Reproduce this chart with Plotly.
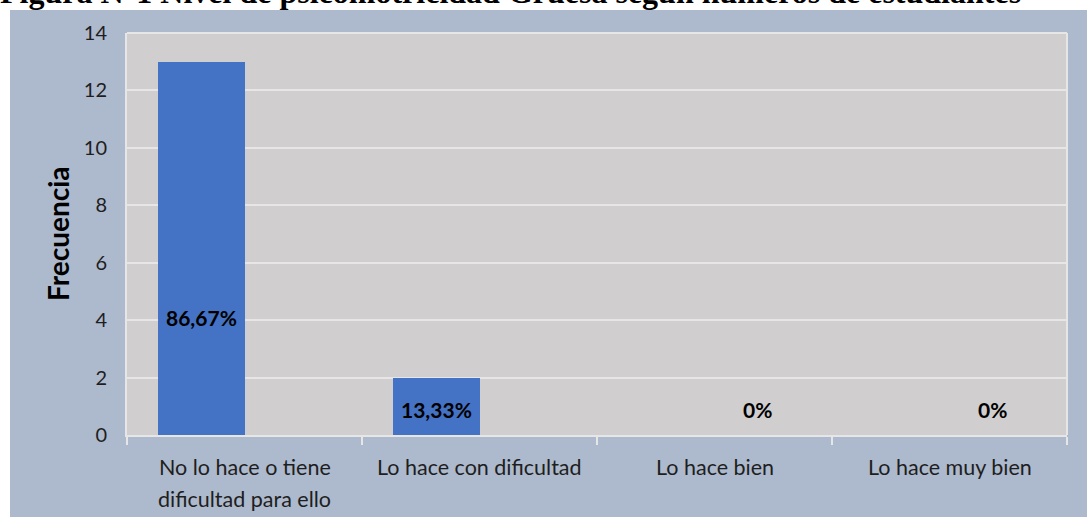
import plotly.graph_objects as go

# ---- data ----
categories = ["No lo hace o tiene\ndificultad para ello", "Lo hace con dificultad",
              "Lo hace bien", "Lo hace muy bien"]
frecuencia = [13, 2, 0, 0]
porcentaje_labels = ["86,67%", "13,33%", "0%", "0%"]
label_y = [4.1, 0.9, 0.9, 0.9]
label_side = [-1, -1, 1, 1]   # -1: on the bar, 1: on the (empty) second slot
y_ticks = [0, 2, 4, 6, 8, 10, 12, 14]
title_text = "Figura N°1 Nivel de psicomotricidad Gruesa según números de estudiantes"
y_title = "Frecuencia"

# ---- layout constants ----
W, H = 1087, 517
ML, MR, MT, MB = 127, 20, 33, 82
PW, PH = W - ML - MR, H - MT - MB
OUTER = "#adb9cc"
PLOTBG = "#d0cecf"
GRID = "#e6e6e6"
BAR = "#4472c4"
FONT = "Lato"
TXT = "#1e1e1e"
BAR_W = 0.37


def py(pixel_from_top):
    """paper y coordinate of a pixel row"""
    return (MT + PH - pixel_from_top) / PH


def px(pixel_from_left):
    return (pixel_from_left - ML) / PW


cat_keys = [c.replace("\n", " ") for c in categories]

fig = go.Figure()
fig.add_trace(go.Bar(
    x=cat_keys, y=frecuencia, marker=dict(color=BAR, line=dict(width=0)),
    width=BAR_W, offset=-BAR_W, showlegend=False, hoverinfo="x+y"))

ann = []
cat_px = PW / len(categories)
for i, c in enumerate(cat_keys):
    ann.append(dict(x=c, y=label_y[i], xref="x", yref="y", text="<b>%s</b>" % porcentaje_labels[i],
                    showarrow=False, xshift=label_side[i] * BAR_W / 2 * cat_px,
                    font=dict(family=FONT, size=21, color="#000000")))
    for j, line in enumerate(categories[i].split("\n")):
        ann.append(dict(x=c, y=0, xref="x", yref="paper", text=line, showarrow=False,
                        yanchor="middle", yshift=-32 - 32 * j,
                        font=dict(family=FONT, size=21.5, color=TXT)))

# y axis title
ann.append(dict(x=px(58), y=0.5, xref="paper", yref="paper", text="<b>%s</b>" % y_title,
                textangle=-90, showarrow=False, xanchor="center", yanchor="middle",
                font=dict(family=FONT, size=28, color="#000000")))
# figure caption (cut at the top of the picture, as in the reference)
ann.append(dict(x=px(-2), y=py(12.5), xref="paper", yref="paper",
                text="<b>%s</b>" % title_text, showarrow=False, xanchor="left", yanchor="bottom",
                font=dict(family="Liberation Serif", size=32, color="#000000")))

shapes = [
    # white strips at top and left
    dict(type="rect", xref="paper", yref="paper", x0=-0.3, x1=1.2,
         y0=py(10), y1=1.3, fillcolor="white", line=dict(width=0), layer="below"),
    dict(type="rect", xref="paper", yref="paper", x0=-0.3, x1=px(10),
         y0=-0.4, y1=1.3, fillcolor="white", line=dict(width=0), layer="below"),
    # plot border top / right
    dict(type="line", xref="paper", yref="paper", x0=0, x1=1, y0=1, y1=1,
         line=dict(color=GRID, width=2)),
    dict(type="line", xref="paper", yref="paper", x0=1, x1=1, y0=0, y1=1,
         line=dict(color=GRID, width=2)),
]

fig.update_layout(
    width=W, height=H,
    margin=dict(l=ML, r=MR, t=MT, b=MB, autoexpand=False),
    paper_bgcolor=OUTER, plot_bgcolor=PLOTBG,
    bargap=0, annotations=ann, shapes=shapes,
    xaxis=dict(type="category", showticklabels=False, tickson="boundaries", ticks="outside",
               ticklen=8, tickcolor=GRID, tickwidth=2, showline=True, linecolor=GRID,
               linewidth=2, showgrid=False, zeroline=False, fixedrange=True),
    yaxis=dict(range=[0, 14], tickvals=y_ticks, showgrid=True, gridcolor=GRID, gridwidth=2,
               showline=True, linecolor=GRID, linewidth=2, zeroline=False, ticks="",
               ticklabelstandoff=14,
               tickfont=dict(family=FONT, size=20, color=TXT), fixedrange=True),
    font=dict(family=FONT, color=TXT),
)

fig.write_html("out.html", config={"displayModeBar": False},
               post_script="document.body.style.margin='0';document.body.style.overflow='hidden';")
